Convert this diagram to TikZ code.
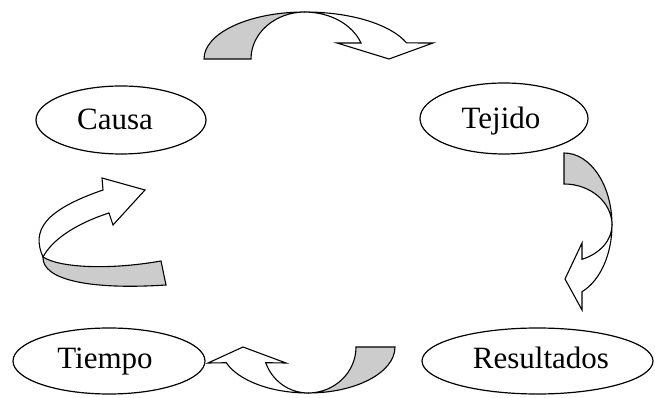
\documentclass[tikz,border=0pt]{standalone}
\usepackage{fontspec}
\setmainfont{Liberation Serif}
\usetikzlibrary{shapes.geometric}
\definecolor{bandgray}{RGB}{204,204,204}
\tikzset{
  stage/.style={draw, ellipse, line width=1.2pt, inner sep=0pt},
  stagetext/.style={inner sep=0pt, font=\fontsize{31}{31}\selectfont,
    text height=20.5pt, text depth=0pt},
  ribbon/.style={draw, line width=1.1pt, line join=miter, fill=white},
  backband/.style={draw, line width=1.1pt, line join=miter, fill=bandgray},
}
\begin{document}
\begin{tikzpicture}[x=1pt, y=1pt]
  \useasboundingbox (0,0) rectangle (655,398);

  % the four stages of the cycle
  \node[stage, minimum width=170pt, minimum height=68pt] (causa) at (121,278) {};
  \node[stage, minimum width=168pt, minimum height=71pt] (tejido) at (504,279.5) {};
  \node[stage, minimum width=231pt, minimum height=66pt] (resultados) at (537.5,37) {};
  \node[stage, minimum width=192pt, minimum height=66pt] (tiempo) at (109,37) {};
  \node[stagetext] (causa-text) at (115,279) {Causa};
  \node[stagetext] (tejido-text) at (501,280) {Tejido};
  \node[stagetext] (resultados-text) at (541,40) {Resultados};
  \node[stagetext] (tiempo-text) at (105,40) {Tiempo};

  % curved arrow: Causa -> Tejido (over the top)
  \draw[backband] (204,339) arc[start angle=180, end angle=90, x radius=101, y radius=47]
    arc[start angle=90, end angle=180, x radius=54, y radius=47] -- cycle;
  \draw[ribbon] (305,386) arc[start angle=90, end angle=20, x radius=108, y radius=47]
    -- (433,355) -- (389,339) -- (337,355) -- (361,355)
    arc[start angle=20, end angle=90, x radius=59.6, y radius=47] -- cycle;

  % curved arrow: Tejido -> Resultados (down the right side)
  \draw[backband] (564,245) arc[start angle=90, end angle=0, x radius=48, y radius=72]
    arc[start angle=0, end angle=90, x radius=48, y radius=41] -- cycle;
  \draw[ribbon] (612,173) arc[start angle=0, end angle=-68, x radius=48, y radius=72]
    -- (582,88) -- (565,119) -- (582,155) -- (582,138.7)
    arc[start angle=-68, end angle=0, x radius=48, y radius=37] -- cycle;

  % curved arrow: Resultados -> Tiempo (under the bottom)
  \draw[backband] (395,51) arc[start angle=0, end angle=-90, x radius=87, y radius=46]
    arc[start angle=-90, end angle=0, x radius=48, y radius=46] -- cycle;
  \draw[ribbon] (308,5) arc[start angle=-90, end angle=-160, x radius=87, y radius=46]
    -- (208,35) -- (243,51) -- (286,35) -- (265.7,35.3)
    arc[start angle=-160, end angle=-90, x radius=45, y radius=46] -- cycle;

  % curved arrow: Tiempo -> Causa (up the left side)
  \draw[backband] (166,113) .. controls (90,108) and (42,118) .. (43,141)
    .. controls (60,130) and (110,128) .. (161,137) -- cycle;
  \draw[ribbon] (43,141) .. controls (31,168) and (45,188) .. (103,208)
    -- (102,220) -- (145,208) -- (113,173) -- (109,185)
    .. controls (75,174) and (52,158) .. (43,141) -- cycle;
\end{tikzpicture}
\end{document}
